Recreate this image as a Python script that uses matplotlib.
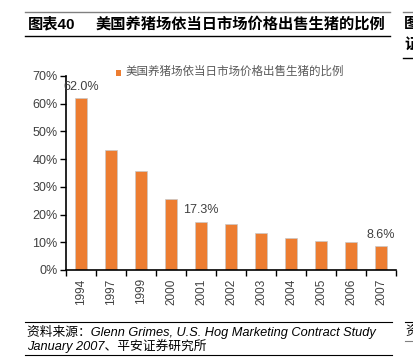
import matplotlib
matplotlib.use("Agg")
import matplotlib.pyplot as plt
from matplotlib.patches import Rectangle

plt.rcParams['font.family'] = ['Liberation Sans', 'Noto Sans CJK SC', 'DejaVu Sans']

years = ['1994', '1997', '1999', '2000', '2001', '2002', '2003', '2004', '2005', '2006', '2007']
share = [62.0, 43.3, 35.7, 25.7, 17.3, 16.7, 13.4, 11.4, 10.5, 10.0, 8.6]
labeled = {0: '62.0%', 4: '17.3%', 10: '8.6%'}
yticks = [0, 10, 20, 30, 40, 50, 60, 70]
series_name = '美国养猪场依当日市场价格出售生猪的比例'
title_num = '图表40'
title_text = '美国养猪场依当日市场价格出售生猪的比例'
source1 = '资料来源：Glenn Grimes, U.S. Hog Marketing Contract Study'
source2 = 'January 2007、平安证券研究所'

W, H = 414, 363
fig = plt.figure(figsize=(W/100, H/100), dpi=100)
ax = fig.add_axes([66/W, 1-270/H, 330/W, 194/H])

orange = '#ED7D31'
gray = '#404040'
x = list(range(len(years)))
ax.bar(x, share, width=0.42, color=orange, edgecolor='#C8C8C8', linewidth=0.5)
ax.set_xlim(-0.5, len(years)-0.5)
ax.set_ylim(0, 70)
ax.set_yticks(yticks)
ax.set_yticklabels([f'{v}%' for v in yticks], fontsize=9, color=gray)
ax.set_xticks([i - 0.5 for i in range(len(years)+1)])
ax.set_xticklabels([])
ax.set_xticks(x, minor=True)
ax.set_xticklabels(years, minor=True, rotation=90, fontsize=8.5, color=gray)
ax.tick_params(axis='x', which='major', direction='out', length=4, width=1, color='black')
ax.tick_params(axis='x', which='minor', length=0, pad=6)
ax.tick_params(axis='y', direction='out', length=4, width=1, color='black', pad=2)
for s in ['top', 'right']:
    ax.spines[s].set_visible(False)
for s in ['left', 'bottom']:
    ax.spines[s].set_linewidth(1.2)
    ax.spines[s].set_color('black')

for i, lab in labeled.items():
    ax.annotate(lab, (x[i], share[i]), xytext=(0, 4), textcoords='offset points',
                ha='center', va='bottom', fontsize=9, color=gray)

# legend
fig.patches.append(Rectangle((116/W, 1-76/H), 5/W, 6/H, transform=fig.transFigure,
                             facecolor=orange, edgecolor='none'))
fig.text(126/W, 1-72/H, series_name, fontsize=8.3, color='#595959', va='center', ha='left')

# title
fig.lines.append(plt.Line2D([25/W, 390/W], [1-12/H, 1-12/H], transform=fig.transFigure, color='#808080', lw=1))
fig.lines.append(plt.Line2D([25/W, 390/W], [1-36/H, 1-36/H], transform=fig.transFigure, color='black', lw=1))
fig.text(28/W, 1-24/H, title_num, fontsize=11, fontweight='bold', va='center', ha='left', color='black')
fig.text(96/W, 1-24/H, title_text, fontsize=11, fontweight='semibold', va='center', ha='left', color='black')
# neighbouring cut-off fragments
fig.lines.append(plt.Line2D([403/W, 1], [1-12/H, 1-12/H], transform=fig.transFigure, color='#808080', lw=1))
fig.text(404/W, 1-24/H, '图', fontsize=11, fontweight='bold', va='center', ha='left')
fig.text(404/W, 1-45/H, '证', fontsize=11, fontweight='bold', va='center', ha='left')
fig.lines.append(plt.Line2D([403/W, 1], [1-58/H, 1-58/H], transform=fig.transFigure, color='black', lw=1))

# footer
fig.lines.append(plt.Line2D([25/W, 392/W], [1-322/H, 1-322/H], transform=fig.transFigure, color='black', lw=0.8))
fig.lines.append(plt.Line2D([25/W, 392/W], [1-355/H, 1-355/H], transform=fig.transFigure, color='black', lw=0.8))
fig.text(27/W, 1-332/H, source1, fontsize=9.2, style='italic', va='center', ha='left', color='black')
fig.text(27/W, 1-346/H, source2, fontsize=9.2, style='italic', va='center', ha='left', color='black')
fig.lines.append(plt.Line2D([405/W, 1], [1-322/H, 1-322/H], transform=fig.transFigure, color='black', lw=0.8))
fig.text(405/W, 1-332/H, '资', fontsize=9.2, va='center', ha='left', color='black')
fig.lines.append(plt.Line2D([405/W, 1], [1-341/H, 1-341/H], transform=fig.transFigure, color='#808080', lw=0.8))

fig.savefig('out.png', dpi=100)
